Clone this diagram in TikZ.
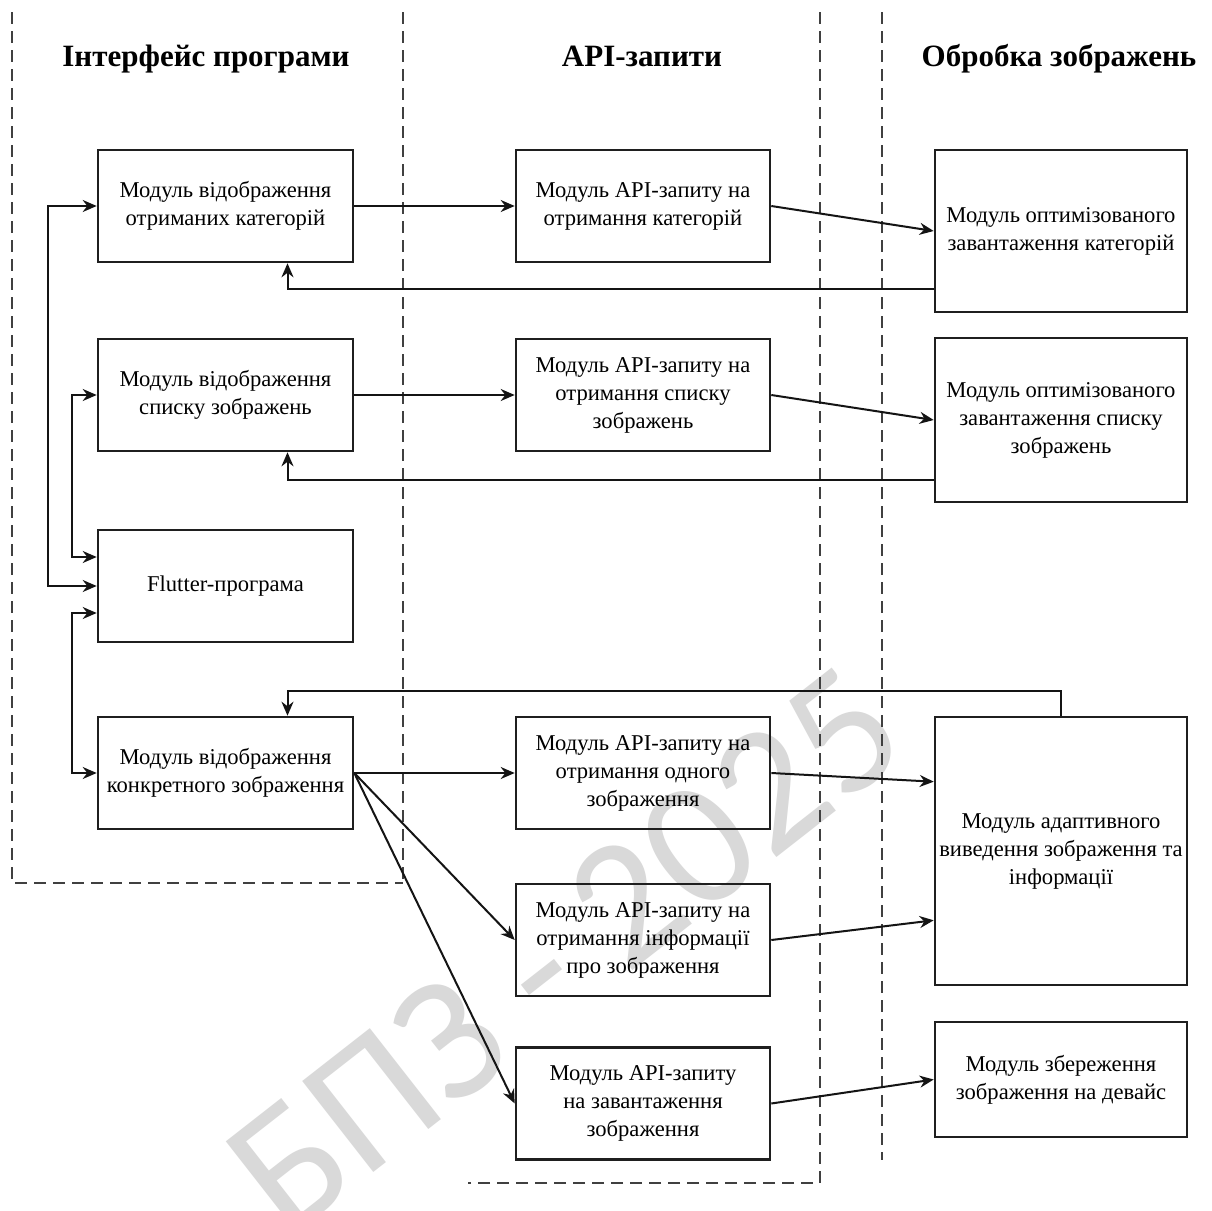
\documentclass[tikz,border=0pt]{standalone}
\usepackage{fontspec}
\setmainfont{Liberation Serif}
\newfontfamily\wmfont{Carlito}
\usetikzlibrary{arrows.meta,calc}

\tikzset{
  box/.style={draw=black!88, line width=1.3pt, inner sep=0pt, align=center,
    font=\fontsize{11.3pt}{14pt}\selectfont},
  lbox/.style={box, minimum width=127.5pt, minimum height=56pt},
  mbox/.style={box, minimum width=127pt, minimum height=56pt},
  rbox/.style={box, minimum width=126pt},
  lane/.style={draw=black!75, line width=0.7pt, dash pattern=on 6pt off 3.5pt},
  arr/.style={draw=black!92, line width=1pt, -{Stealth[length=7pt,width=6pt]}},
  dbl/.style={draw=black!92, line width=1pt, {Stealth[length=7pt,width=6pt]}-{Stealth[length=7pt,width=6pt]}},
  title/.style={font=\fontsize{15.5pt}{18pt}\selectfont\bfseries, anchor=base},
  wm/.style={text=black!15, font=\wmfont\fontsize{90pt}{90pt}\selectfont}
}

\begin{document}
\begin{tikzpicture}[x=0.5pt, y=-0.5pt]
  \useasboundingbox (0,0) rectangle (1212,1211);
  \fill[white] (0,0) rectangle (1212,1211);

  % watermark behind everything
  \node[wm, rotate=38] (wmark) at (565,950) {БПЗ - 2025};

  % swimlane borders
  \draw[lane] (12,12) -- (12,883) -- (403,883);
  \draw[lane] (403,12) -- (403,883);
  \draw[lane] (820,12) -- (820,1183) -- (468,1183);
  \draw[lane] (882,12) -- (882,1160);

  % lane titles
  \node[title] (t1) at (206,66) {Інтерфейс програми};
  \node[title] (t2) at (642,66) {API-запити};
  \node[title] (t3) at (1059,66) {Обробка зображень};

  % interface modules
  \node[lbox] (L1) at (225.5,206) {Модуль відображення\\отриманих категорій};
  \node[lbox] (L2) at (225.5,395) {Модуль відображення\\списку зображень};
  \node[lbox] (L3) at (225.5,586) {Flutter-програма};
  \node[lbox] (L4) at (225.5,773) {Модуль відображення\\конкретного зображення};

  % API request modules
  \node[mbox] (M1) at (643,206) {Модуль API-запиту на\\отримання категорій};
  \node[mbox] (M2) at (643,395) {Модуль API-запиту на\\отримання списку\\зображень};
  \node[mbox] (M3) at (643,773) {Модуль API-запиту на\\отримання одного\\зображення};
  \node[mbox] (M4) at (643,940) {Модуль API-запиту на\\отримання інформації\\про зображення};
  \node[mbox] (M5) at (643,1103.5) {Модуль API-запиту\\на завантаження\\зображення};

  % image processing modules
  \node[rbox, minimum height=81pt] (R1) at (1061,231) {Модуль оптимізованого\\завантаження категорій};
  \node[rbox, minimum height=82pt] (R2) at (1061,420) {Модуль оптимізованого\\завантаження списку\\зображень};
  \node[rbox, minimum height=134pt] (R3) at (1061,851) {Модуль адаптивного\\виведення зображення та\\інформації};
  \node[rbox, minimum height=57.5pt] (R4) at (1061,1079.5) {Модуль збереження\\зображення на девайс};

  % categories flow
  \draw[arr] (L1.east) -- (M1.west);
  \draw[arr] (M1.east) -- (R1.west);
  \draw[arr] ([yshift=12pt]R1.south west) -| ([xshift=31pt]L1.south);

  % image list flow
  \draw[arr] (L2.east) -- (M2.west);
  \draw[arr] (M2.east) -- (R2.west);
  \draw[arr] ([yshift=11.5pt]R2.south west) -| ([xshift=31pt]L2.south);

  % navigation between screens and the app
  \draw[dbl] (L1.west) -- ++(-49,0) |- (L3.west);
  \draw[dbl] (L2.west) -- ++(-25,0) |- ([yshift=14.5pt]L3.west);
  \draw[dbl] ([yshift=-13.5pt]L3.west) -- ++(-25,0) |- (L4.west);

  % single image flow
  \draw[arr] (R3.north) -- ++(0,-25) -| ([xshift=31pt]L4.north);
  \draw[arr] (L4.east) -- (M3.west);
  \draw[arr] (L4.east) -- (M4.west);
  \draw[arr] (L4.east) -- (M5.west);
  \draw[arr] (M3.east) -- ([yshift=-33pt]R3.north west);
  \draw[arr] (M4.east) -- ([yshift=33pt]R3.south west);
  \draw[arr] (M5.east) -- (R4.west);
\end{tikzpicture}
\end{document}
